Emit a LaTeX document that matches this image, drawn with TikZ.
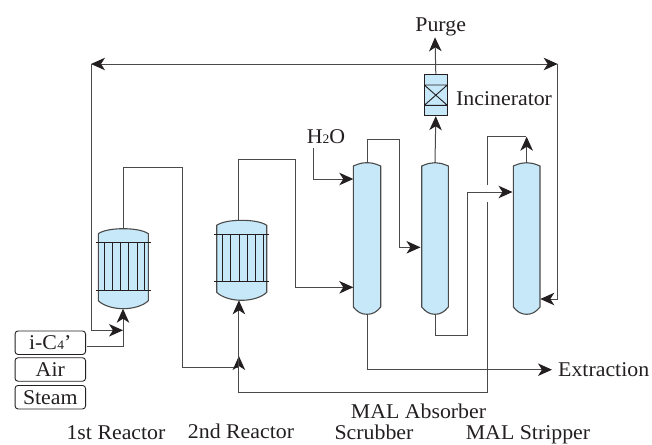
\documentclass[tikz,border=0pt]{standalone}
\usepackage{fontspec}
\setmainfont[FakeStretch=1.04]{Liberation Serif}
\usetikzlibrary{arrows.meta}
\definecolor{fillblue}{HTML}{C6E8F8}
\definecolor{ink}{HTML}{231F20}
\definecolor{pipegray}{HTML}{4A4A4A}
\tikzset{
  bigtip/.tip={Stealth[length=14pt,width=12.5pt,inset=4pt,color=ink]},
  pipe/.style={draw=pipegray,line width=1pt},
  flow/.style={pipe,-bigtip},
  vessel/.style={draw=pipegray,line width=1.1pt,fill=fillblue},
  tube/.style={draw=ink,line width=0.9pt},
  label/.style={font=\fontsize{21}{21}\selectfont,text=ink,inner sep=0pt,anchor=base},
  feedbox/.style={draw=ink,line width=0.9pt,rounded corners=3pt,minimum width=70.5pt,minimum height=23.5pt,inner sep=0pt,font=\fontsize{21}{21}\selectfont,text=ink}
}
\newcommand{\reactor}[4]{% name, left x, top y, port offset
  \begin{scope}[shift={(#2,#3)}]
    \path[vessel] (0,5) .. controls (5,1.5) and (15,0) .. (25,0) .. controls (35,0) and (45,1.5) .. (50,5)
      -- (50,72) .. controls (45,77) and (35,80) .. (25,80) .. controls (15,80) and (5,77) .. (0,72) -- cycle;
    \draw[tube] (-2.5,14.2) -- (52.5,14.2);
    \draw[tube] (-2.5,61.5) -- (52.5,61.5);
    \foreach \tx in {5.9,13.8,22.3,30.5,39,46.5}
      \draw[tube] (\tx,14.2) -- (\tx,61.5);
    \coordinate (#1top) at (#4,0);
    \coordinate (#1bot) at (#4,80);
  \end{scope}}
\newcommand{\column}[3]{% name, left x, right x
  \path[vessel] (#2,166) .. controls (#2+6,163.5) and (#2+9,162.7) .. ({(#2+#3)/2},162.7)
    .. controls (#3-9,162.7) and (#3-6,163.5) .. (#3,166)
    -- (#3,307) .. controls (#3-4,312) and (#3-8,314.3) .. ({(#2+#3)/2},314.3)
    .. controls (#2+8,314.3) and (#2+4,312) .. (#2,307) -- cycle;
  \coordinate (#1top) at ({(#2+#3)/2},162.7);
  \coordinate (#1bot) at ({(#2+#3)/2},314.3);}
\begin{document}
\begin{tikzpicture}[x=1pt,y=-1pt]
\useasboundingbox (0,0) rectangle (652,444);
% vessels
\reactor{ra}{98.3}{228.7}{24.7}
\reactor{rb}{216.7}{220.3}{22.2}
\column{sc}{353.3}{380.7}
\column{ab}{421.7}{448.3}
\column{st}{513.3}{540}
% incinerator
\node[draw=ink,line width=1pt,fill=fillblue,minimum width=23pt,minimum height=41.4pt,inner sep=0pt] (inc) at (435.8,95) {};
\coordinate (ia) at (424.3,85);
\coordinate (ib) at (447.3,85);
\coordinate (ic) at (424.3,105.3);
\coordinate (id) at (447.3,105.3);
\draw[tube] (ia) -- (ib) (ic) -- (id) (ia) -- (id) (ib) -- (ic);
% feed boxes
\node[feedbox] (ic4) at (50.3,342.7) {i-C\kern0.5pt{\fontsize{13}{13}\selectfont 4}’};
\node[feedbox] (air) at (50.3,369.5) {Air};
\node[feedbox] (steam) at (50.3,397.2) {Steam};
% labels
\node[label] (purge) at (440.7,31.5) {Purge};
\node[label,anchor=base west] (inclab) at (456,105) {Incinerator};
\node[label] (h2o) at (326,143) {H{\fontsize{13}{13}\selectfont 2}O};
\node[label,anchor=base west] (ext) at (558,376.5) {Extraction};
\node[label] (mala) at (418.5,418) {MAL Absorber};
\node[label] (scr) at (374,439.3) {Scrubber};
\node[label] (mals) at (528,439.3) {MAL Stripper};
\node[label] (r1) at (116,439.3) {1st Reactor};
\node[label] (r2) at (241,438) {2nd Reactor};
% named waypoints
\coordinate (ll) at (91,64);
\coordinate (lr) at (557.7,64);
\coordinate (jf) at (rabot |- 0,346);
\coordinate (jr) at (rbbot |- 0,367.3);
% connectors
\draw[pipe,bigtip-bigtip] (ll) -- (lr);
\draw[flow] (lr) -- (557.7,299) -- (540.3,299);
\draw[flow] (ll) -- (91,330.3) -- (rabot |- 0,330.3);
\draw[flow] (87,346) -- (jf) -- (rabot);
\draw[pipe] (ratop) -- (ratop |- 0,167) -- (182,167) -- (182,367.3) -- (jr);
\draw[flow] (rbbot |- 0,392.7) -- (rbbot |- 0,356);
\draw[flow] (rbbot |- 0,392.7) -- (rbbot);
\draw[pipe] (rbbot |- 0,392.7) -- (487.7,392.7) -- (487.7,201.7);
\draw[pipe] (487.7,185) -- (487.7,136.7) -- (525.7,136.7);
\draw[flow] (sttop) -- (sttop |- 0,136.7);
\draw[flow] (rbtop) -- (rbtop |- 0,159.3) -- (295.3,159.3) -- (295.3,287.3) -- (353.3,287.3);
\draw[flow] (313.5,148) -- (313.5,179) -- (353.3,179);
\draw[flow] (sctop) -- (sctop |- 0,139) -- (399.3,139) -- (399.3,247.3) -- (420.5,247.3);
\draw[flow] (abtop) -- (inc.south);
\draw[flow] (inc.north) -- (abtop |- 0,37.3);
\draw[flow] (scbot) -- (scbot |- 0,369.7) -- ([xshift=-6pt]ext.west |- 0,369.7);
\draw[flow] (abbot) -- (abbot |- 0,335.3) -- (467.3,335.3) -- (467.3,192) -- (512.5,192);
\end{tikzpicture}
\end{document}
